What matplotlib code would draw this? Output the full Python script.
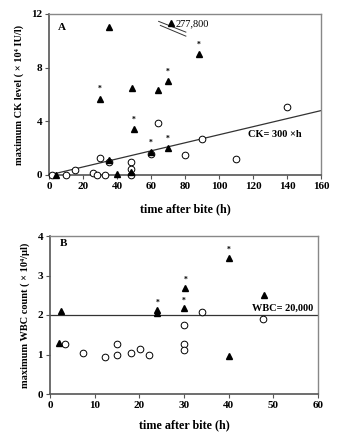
import matplotlib
matplotlib.use("Agg")
import matplotlib.pyplot as plt
import numpy as np

# Panel A: CK level (x 10^4 IU/l) vs time after bite (h)
a_tri_h = [35, 72, 88, 70, 49, 64, 30, 50, 60, 70, 35, 48, 40, 4]
a_tri_v = [11.0, 11.3, 9.0, 7.0, 6.5, 6.3, 5.7, 3.4, 1.7, 2.0, 1.1, 0.2, 0.05, 0.0]
a_star = [False, False, True, True, False, False, True, True, True, True, False, False, False, False]
a_circ_h = [140, 64, 90, 80, 110, 30, 48, 48, 48, 2, 10, 15, 26, 28, 33, 60, 35]
a_circ_v = [5.1, 3.9, 2.7, 1.5, 1.2, 1.3, 1.0, 0.45, 0.0, 0.0, 0.0, 0.35, 0.15, 0.0, 0.0, 1.6, 1.0]
ck_slope = 0.03  # 300 IU/l per h in units of 10^4

# Panel B: WBC count (x 10^4/ul) vs time after bite (h)
b_tri_h = [2.5, 24, 24, 30, 30.3, 40, 48, 2, 40]
b_tri_v = [2.1, 2.12, 2.05, 2.17, 2.68, 3.44, 2.5, 1.3, 0.96]
b_star = [False, True, False, True, True, True, False, False, False]
b_circ_h = [34, 30, 47.7, 3.4, 7.4, 12.3, 15.1, 15.1, 18.1, 20.1, 22.1, 30, 30]
b_circ_v = [2.08, 1.75, 1.9, 1.27, 1.05, 0.94, 1.26, 1.0, 1.05, 1.14, 0.99, 1.26, 1.11]
wbc_line = 2.0

font = "Liberation Serif"
plt.rcParams['font.family'] = [font, 'DejaVu Sans']
plt.rcParams['font.weight'] = 'bold'

fig = plt.figure(figsize=(3.56, 4.41), dpi=100)
axA = fig.add_axes([49/356, 1-175/441, 272/356, 161/441])
axB = fig.add_axes([50/356, 1-394/441, 268/356, 158/441])

def style(ax):
    for s in ['left', 'bottom']:
        ax.spines[s].set_color('#555555')
        ax.spines[s].set_linewidth(1.2)
    for s in ['top', 'right']:
        ax.spines[s].set_color('#888888')
        ax.spines[s].set_linewidth(1.0)
    ax.tick_params(direction='out', length=3, width=0.8, colors='#555555',
                   labelcolor='black', labelsize=8, pad=2)
    for lab in ax.get_xticklabels() + ax.get_yticklabels():
        lab.set_fontweight('bold')

# Panel A
axA.plot(a_circ_h, a_circ_v, 'o', mfc='white', mec='black', ms=4.8, mew=0.7, clip_on=False, zorder=3)
axA.plot(a_tri_h, a_tri_v, '^', color='black', ms=5, clip_on=False, zorder=4)
for h, v, s in zip(a_tri_h, a_tri_v, a_star):
    if s:
        axA.text(h, v + 0.4, '*', ha='center', va='bottom', fontsize=5.5, fontweight='bold')
xx = np.array([0, 160])
axA.plot(xx, ck_slope * xx, color='#333333', lw=0.9, zorder=2)
axA.set_xlim(0, 160)
axA.set_ylim(0, 12)
axA.set_xticks(range(0, 161, 20))
axA.set_yticks([0, 4, 8, 12])
style(axA)
axA.text(7.5, 11.0, 'A', fontsize=8, fontweight='bold', ha='center', va='center')
axA.text(74.5, 11.3, '277,800', fontsize=7.5, fontweight='normal', ha='left', va='center')
axA.plot([64.5, 80.5], [11.45, 10.65], color='#333333', lw=0.7)
axA.plot([65.5, 80.5], [11.15, 10.35], color='#333333', lw=0.7)
axA.text(133, 3.0, 'CK= 300 ×h', fontsize=7.5, fontweight='bold', ha='center', va='center')
axA.set_xlabel('time after bite (h)', fontsize=8.7, fontweight='bold', labelpad=9)
axA.set_ylabel('maximum CK level ( × 10⁴ IU/l)', fontsize=7.5, fontweight='bold', labelpad=5)

# Panel B
axB.plot(b_circ_h, b_circ_v, 'o', mfc='white', mec='black', ms=4.8, mew=0.7, clip_on=False, zorder=3)
axB.plot(b_tri_h, b_tri_v, '^', color='black', ms=5, clip_on=False, zorder=4)
for h, v, s in zip(b_tri_h, b_tri_v, b_star):
    if s:
        axB.text(h, v + 0.1, '*', ha='center', va='bottom', fontsize=5.5, fontweight='bold')
axB.axhline(wbc_line, color='#333333', lw=0.9, zorder=2)
axB.set_xlim(0, 60)
axB.set_ylim(0, 4)
axB.set_xticks(range(0, 61, 10))
axB.set_yticks([0, 1, 2, 3, 4])
style(axB)
axB.text(3, 3.8, 'B', fontsize=8, fontweight='bold', ha='center', va='center')
axB.text(52, 2.17, 'WBC= 20,000', fontsize=7.5, fontweight='bold', ha='center', va='center')
axB.set_xlabel('time after bite (h)', fontsize=8.7, fontweight='bold', labelpad=7)
axB.set_ylabel('maximum WBC count ( × 10⁴/μl)', fontsize=7.5, fontweight='bold', labelpad=5)

fig.savefig('out.png', dpi=100)
